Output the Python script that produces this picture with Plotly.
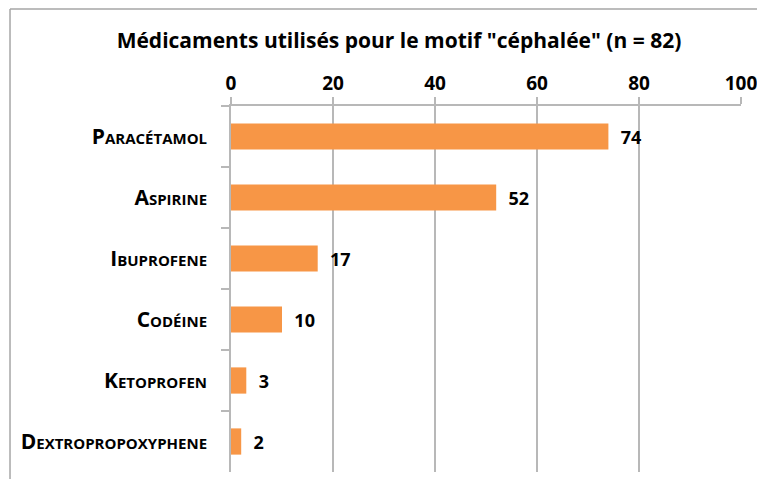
import plotly.graph_objects as go

# données
medicaments = ["Paracétamol", "Aspirine", "Ibuprofene", "Codéine",
               "Ketoprofen", "Dextropropoxyphene"]
nombres = [74, 52, 17, 10, 3, 2]
x_ticks = [0, 20, 40, 60, 80, 100]

ORANGE = "#F79646"
GRIS = "#B8B8B8"


def main():
    fig = go.Figure(go.Bar(
        x=nombres,
        y=medicaments,
        orientation="h",
        width=0.43,
        marker=dict(color=ORANGE, line=dict(width=0)),
        texttemplate="\u00a0\u00a0%{x}",
        textposition="outside",
        textfont=dict(family="Open Sans", size=18, color="black", weight="bold"),
        cliponaxis=False,
    ))

    # la page ajoute 8 px de marge au body : figure un peu plus petite
    fig.update_layout(
        width=757, height=471,
        margin=dict(l=223, r=24, t=98, b=7, autoexpand=False),
        plot_bgcolor="white", paper_bgcolor="white",
        showlegend=False,
        title=dict(text='Médicaments utilisés pour le motif "céphalée" (n = 82)',
                   x=0.5165, xanchor="center", y=0.93, yanchor="middle",
                   font=dict(family="Open Sans", size=21, color="black",
                             weight="bold")),
        xaxis=dict(side="top", range=[0, 100], tickvals=x_ticks,
                   automargin=False,
                   showgrid=True, gridcolor=GRIS, gridwidth=1.5,
                   showline=True, linecolor=GRIS, linewidth=1.5,
                   ticks="outside", ticklen=7, tickcolor=GRIS, tickwidth=1.5,
                   zeroline=False,
                   tickfont=dict(family="Open Sans", size=19, color="black",
                                 weight="bold")),
        yaxis=dict(autorange="reversed", automargin=False,
                   showline=True, linecolor=GRIS,
                   linewidth=1.5, ticks="outside", ticklen=8, tickwidth=1.5,
                   tickcolor=GRIS, tickson="boundaries", ticklabelstandoff=18,
                   tickfont=dict(family="Open Sans", size=21, color="black",
                                 weight="bold", variant="small-caps")),
    )

    # cadre du graphique (coin supérieur gauche visible)
    fig.add_shape(type="line", xref="paper", yref="paper",
                  x0=-0.4333, x1=1.1, y0=1.265, y1=1.265,
                  line=dict(color="#A6A6A6", width=1.5))
    fig.add_shape(type="line", xref="paper", yref="paper",
                  x0=-0.4333, x1=-0.4333, y0=1.265, y1=-0.1,
                  line=dict(color="#A6A6A6", width=1.5))

    fig.write_html("out.html")


if __name__ == "__main__":
    main()
